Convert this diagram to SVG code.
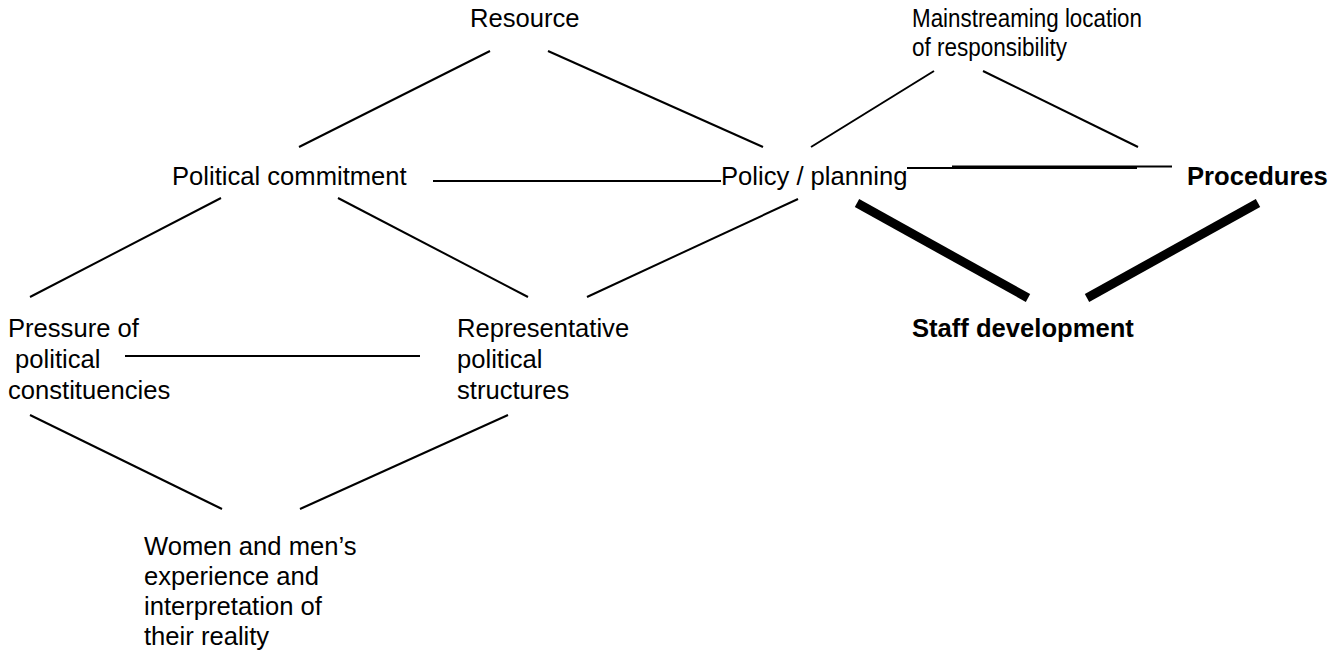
<svg xmlns="http://www.w3.org/2000/svg" width="1344" height="652" viewBox="0 0 1344 652">
<style>
text{font-family:"Liberation Sans",Arial,Helvetica,sans-serif;font-size:25.6px;fill:#000}
.b{font-weight:bold}
.c line{stroke:#000;stroke-width:2;fill:none}
.c .thick{stroke-width:9}
</style>
<rect width="1344" height="652" fill="#fff"/>
<g id="connectors" class="c">
<line x1="490" y1="51" x2="299" y2="147"/>
<line x1="548" y1="51" x2="763" y2="147"/>
<line x1="934" y1="71" x2="811" y2="147"/>
<line x1="983" y1="71" x2="1138" y2="147"/>
<line x1="433" y1="181" x2="721" y2="181"/>
<line x1="907" y1="168" x2="1137" y2="168"/>
<line x1="952" y1="166.5" x2="1172" y2="166.5"/>
<line class="thick" x1="857" y1="203" x2="1028" y2="298"/>
<line class="thick" x1="1258" y1="203" x2="1087" y2="298"/>
<line x1="221" y1="198" x2="30" y2="297"/>
<line x1="338" y1="198" x2="528" y2="297"/>
<line x1="798" y1="199" x2="587" y2="297"/>
<line x1="125" y1="356" x2="420" y2="356"/>
<line x1="30" y1="415" x2="222" y2="509"/>
<line x1="508" y1="415" x2="300" y2="509"/>
</g>
<g id="resource"><text x="470" y="27">Resource</text></g>
<g id="mainstreaming"><text x="912" y="27" textLength="230" lengthAdjust="spacingAndGlyphs">Mainstreaming location</text><text x="912" y="56" textLength="155" lengthAdjust="spacingAndGlyphs">of responsibility</text></g>
<g id="political-commitment"><text x="172" y="185">Political commitment</text></g>
<g id="policy-planning"><text x="721" y="185">Policy / planning</text></g>
<g id="procedures"><text class="b" x="1187" y="185">Procedures</text></g>
<g id="staff-development"><text class="b" x="912" y="337">Staff development</text></g>
<g id="pressure"><text x="8" y="337">Pressure of</text><text x="8" y="368" xml:space="preserve"> political</text><text x="8" y="399">constituencies</text></g>
<g id="representative"><text x="457" y="337">Representative</text><text x="457" y="368">political</text><text x="457" y="399">structures</text></g>
<g id="women-men"><text x="144" y="555">Women and men’s</text><text x="144" y="585">experience and</text><text x="144" y="615">interpretation of</text><text x="144" y="645">their reality</text></g>
</svg>
